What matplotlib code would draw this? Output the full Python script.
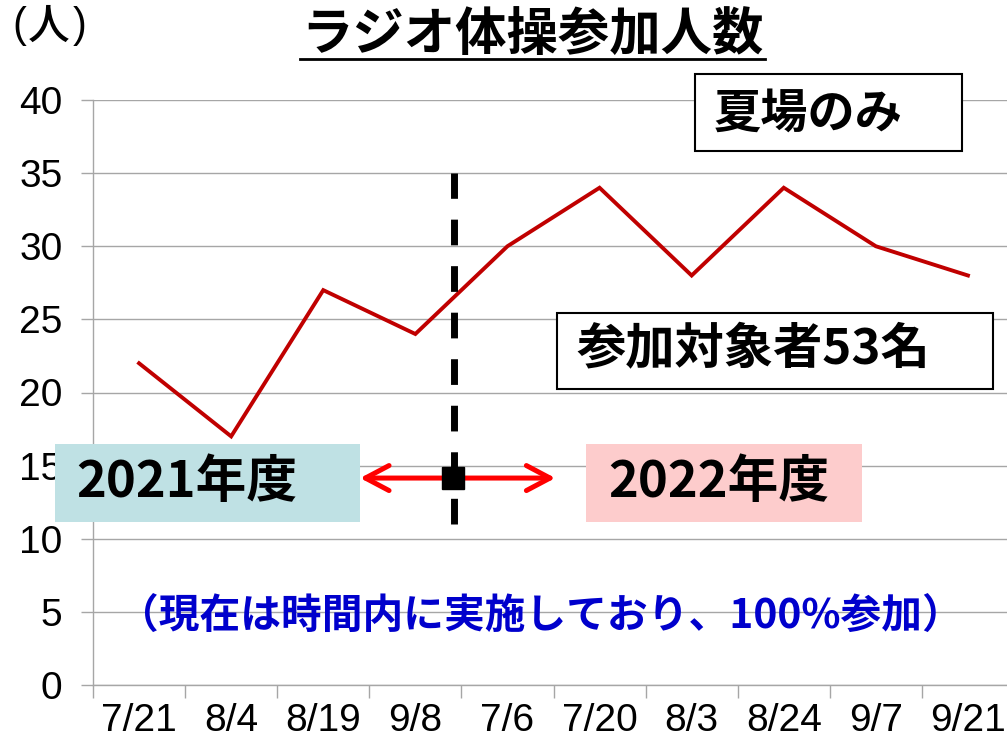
import matplotlib
matplotlib.use('Agg')
import matplotlib.pyplot as plt
from matplotlib.patches import Rectangle
from matplotlib.lines import Line2D

# Dati
dates = ['7/21', '8/4', '8/19', '9/8', '7/6', '7/20', '8/3', '8/24', '9/7', '9/21']
people = [22, 17, 27, 24, 30, 34, 28, 34, 30, 28]
y_ticks = [0, 5, 10, 15, 20, 25, 30, 35, 40]

JP = ['Noto Sans CJK JP', 'DejaVu Sans']
NUM = 'Liberation Sans'

W, H = 1007, 754
fig = plt.figure(figsize=(W / 100, H / 100), dpi=100)


def px(x, y):
    # pixel (dall'alto a sinistra) -> coordinate figura
    return x / W, 1 - y / H


x0, y_top, y_bot, x1 = 93, 100, 685, 1014
ax = fig.add_axes([x0 / W, 1 - y_bot / H, (x1 - x0) / W, (y_bot - y_top) / H])

xs = [i + 0.5 for i in range(len(dates))]
ax.plot(xs, people, color='#C00000', lw=2.8, solid_joinstyle='miter', zorder=3)

ax.set_xlim(0, len(dates))
ax.set_ylim(0, 40)
ax.set_yticks(y_ticks)
ax.set_yticklabels([str(v) for v in y_ticks], fontsize=28, family=NUM)
ax.set_xticks(range(len(dates) + 1))
ax.set_xticklabels([])
ax.set_xticks(xs, minor=True)
ax.set_xticklabels(dates, minor=True, fontsize=28, family=NUM)
ax.tick_params(axis='x', which='minor', length=0, pad=13)
ax.tick_params(axis='x', which='major', length=9, color='#A6A6A6', width=1)
ax.tick_params(axis='y', length=9, color='#A6A6A6', width=1, pad=13)
ax.grid(axis='y', color='#A6A6A6', lw=1)
ax.set_axisbelow(True)
for s in ['top', 'right']:
    ax.spines[s].set_visible(False)
for s in ['left', 'bottom']:
    ax.spines[s].set_color('#A6A6A6')
    ax.spines[s].set_linewidth(1)

# Linea tratteggiata di separazione tra i due anni
ax.plot([3.915, 3.915], [11.0, 35.0], color='black', lw=5, dashes=(3.7, 3.0),
        solid_capstyle='butt', zorder=4)

# Freccia e quadrato
ax.annotate('', xy=(2.9, 14.15), xytext=(5.02, 14.15),
            arrowprops=dict(arrowstyle='<->,head_length=0.85,head_width=0.45',
                            color='red', lw=3.6, mutation_scale=20,
                            shrinkA=0, shrinkB=0), zorder=5)
ax.plot([3.905], [14.15], marker='s', color='black', markersize=16, zorder=6)

# Titolo
fig.text(*px(532, 35), 'ラジオ体操参加人数', family=JP, fontsize=37, fontweight='bold',
         ha='center', va='center')
fig.add_artist(Line2D([300 / W, 765 / W], [1 - 59 / H, 1 - 59 / H], color='black', lw=2))

# Unità asse y: (人)
fig.text(*px(19, 26), '(', family=NUM, fontsize=30, ha='center', va='center')
fig.text(*px(49, 26), '人', family=JP, fontsize=30, fontweight='medium', ha='center', va='center')
fig.text(*px(80, 26), ')', family=NUM, fontsize=30, ha='center', va='center')


def box(xa, ya, xb, yb, face, edge, text, tx, ty, size):
    fig.add_artist(Rectangle(px(xa, yb), (xb - xa) / W, (yb - ya) / H,
                             transform=fig.transFigure, facecolor=face,
                             edgecolor=edge, lw=1.5 if edge != 'none' else 0, zorder=7))
    fig.text(*px(tx, ty), text, family=JP, fontsize=size, fontweight='bold',
             ha='left', va='center', zorder=8)


box(695, 74, 962, 151, 'white', 'black', '夏場のみ', 714, 114, 34)
box(557, 313, 993, 389, 'white', 'black', '参加対象者53名', 576, 350, 35.5)
box(55, 444, 360, 522, '#BFE1E4', 'none', '2021年度', 76, 483, 36.5)
box(586, 444, 862, 522, '#FDCCCC', 'none', '2022年度', 608, 483, 36.5)

fig.text(*px(540, 617), '（現在は時間内に実施しており、100%参加）', family=JP,
         fontsize=29.3, fontweight='bold', color='#0000CC', ha='center', va='center')

fig.savefig('out.png', dpi=100)
